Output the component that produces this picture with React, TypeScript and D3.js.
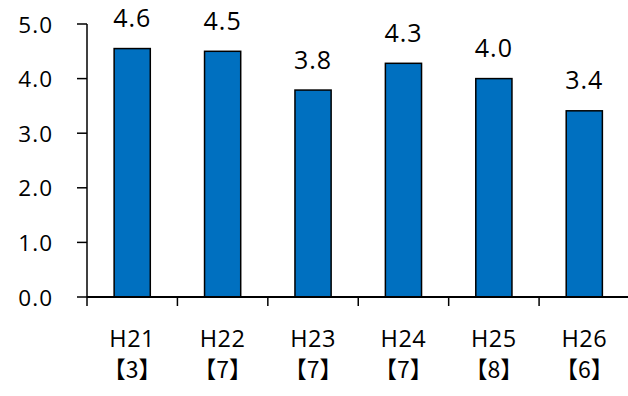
import React from "react";
import * as d3 from "d3";

const categories = ["H21", "H22", "H23", "H24", "H25", "H26"];
const counts = ["【3】", "【7】", "【7】", "【7】", "【8】", "【6】"];
const values = [4.55, 4.5, 3.79, 4.28, 4.0, 3.41];
const labels = ["4.6", "4.5", "3.8", "4.3", "4.0", "3.4"];
const yTicks = [0, 1, 2, 3, 4, 5];

export default function App() {
  const W = 628, H = 396;
  const x0 = 87, x1 = 629.5;
  const yTop = 24, yBot = 297;
  const x = d3.scaleBand<string>().domain(categories).range([x0, x1]).paddingInner(0.6).paddingOuter(0.3);
  const xStep = d3.scaleBand<string>().domain(categories).range([x0, x1]).padding(0);
  const y = d3.scaleLinear().domain([0, 5]).range([yBot, yTop]);
  const font = "Open Sans, Noto Sans, sans-serif";
  const cjk = "Noto Sans CJK JP, Open Sans, sans-serif";
  return (
    <svg width={W} height={H} style={{ position: "absolute", left: 0, top: 0, background: "#fff" }}>
      {categories.map((c, i) => (
        <g key={c}>
          <rect x={x(c)!} y={y(values[i])} width={x.bandwidth()} height={yBot - y(values[i])}
            fill="#0070C0" stroke="#000" strokeWidth={1.5} />
          <text x={x(c)! + x.bandwidth() / 2} y={y(values[i]) - 21.5} textAnchor="middle"
            fontFamily={font} fontSize={25} letterSpacing={1} fill="#000">{labels[i]}</text>
          <text x={xStep(c)! + xStep.bandwidth() / 2} y={347} textAnchor="middle"
            fontFamily={font} fontSize={23.5} letterSpacing={0.5} fill="#000">{c}</text>
          <text x={xStep(c)! + xStep.bandwidth() / 2} y={378} textAnchor="middle"
            fontFamily={cjk} fontSize={23} fill="#000">{counts[i]}</text>
        </g>
      ))}
      {/* y axis */}
      <line x1={x0} x2={x0} y1={yTop} y2={yBot} stroke="#000" strokeWidth={1.5} />
      {yTicks.map((t) => (
        <g key={t}>
          <line x1={x0 - 10} x2={x0} y1={y(t)} y2={y(t)} stroke="#000" strokeWidth={1.5} />
          <text x={53} y={y(t) + 8.5} textAnchor="end"
            fontFamily={font} fontSize={22.5} letterSpacing={1} fill="#000">{t.toFixed(1)}</text>
        </g>
      ))}
      {/* x axis */}
      <line x1={x0} x2={W} y1={yBot} y2={yBot} stroke="#000" strokeWidth={2} />
      {categories.map((c) => (
        <line key={c} x1={xStep(c)!} x2={xStep(c)!} y1={yBot} y2={yBot + 9} stroke="#000" strokeWidth={1.5} />
      ))}
    </svg>
  );
}
